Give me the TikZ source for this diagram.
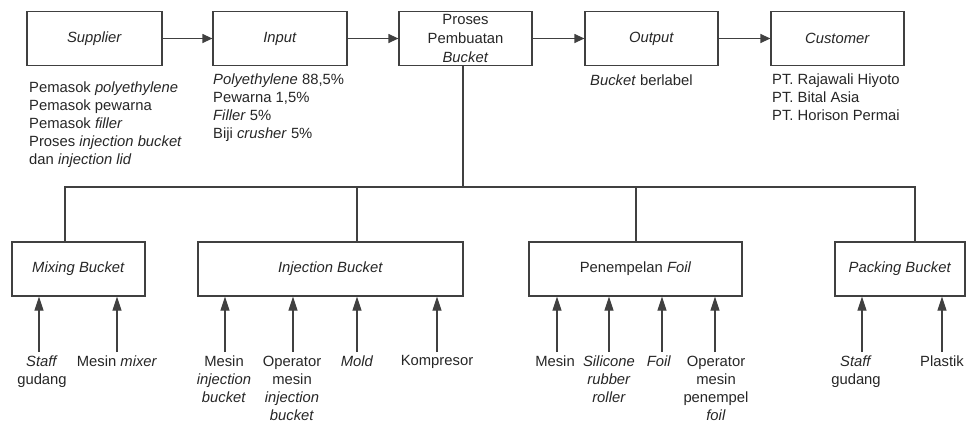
\documentclass[tikz,border=0pt]{standalone}
\usepackage{fontspec}
\setmainfont{Liberation Sans}
\usetikzlibrary{arrows.meta}
\definecolor{ln}{HTML}{404040}
\definecolor{tx}{HTML}{262626}
\begin{document}
\begin{tikzpicture}[x=1pt,y=-1pt,
  box/.style={draw=ln,line width=1.2pt,minimum height=54pt,inner sep=0pt,
    font=\fontsize{14.8}{19}\selectfont,text=tx,align=center},
  lbl/.style={inner sep=0pt,font=\fontsize{14.8}{18}\selectfont,text=tx,align=center,anchor=north},
  txt/.style={inner sep=0pt,font=\fontsize{14.8}{18}\selectfont,text=tx,align=left,anchor=north west},
  con/.style={draw=ln,line width=1.2pt},
  arr/.style={con,-{Triangle[length=10pt,width=9pt]}},
  uparr/.style={con,-{Triangle[length=14pt,width=9pt]}}]
\useasboundingbox (0,0) rectangle (967,421);
% top row
\node[box,minimum width=135pt] (sup) at (94.5,38.5) {\textit{Supplier}};
\node[box,minimum width=134pt] (inp) at (280,38.5) {\textit{Input}};
\node[box,minimum width=133pt] (pro) at (465.5,38.5) {Proses\\Pembuatan\\\textit{Bucket}};
\node[box,minimum width=133pt] (out) at (651.5,38.5) {\textit{Output}};
\node[box,minimum width=133pt] (cus) at (837.5,38.5) {\textit{Customer}};
\draw[arr] (sup) -- (inp);
\draw[arr] (inp) -- (pro);
\draw[arr] (pro) -- (out);
\draw[arr] (out) -- (cus);
% top texts
\node[txt] (tsup) at (29,82) {Pemasok \textit{polyethylene}\\Pemasok pewarna\\Pemasok \textit{filler}\\Proses \textit{injection bucket}\\dan \textit{injection lid}};
\node[txt] (tinp) at (213,74) {\textit{Polyethylene} 88,5\%\\Pewarna 1,5\%\\\textit{Filler} 5\%\\Biji \textit{crusher} 5\%};
\node[txt] (tout) at (590,75) {\textit{Bucket} berlabel};
\node[txt] (tcus) at (772,74) {PT. Rajawali Hiyoto\\PT. Bital Asia\\PT. Horison Permai};
% bottom row
\node[box,minimum width=133pt] (mix) at (78.5,269) {\textit{Mixing Bucket}};
\node[box,minimum width=265pt] (inj) at (330.5,269) {\textit{Injection Bucket}};
\node[box,minimum width=213pt] (pen) at (635.5,269) {Penempelan \textit{Foil}};
\node[box,minimum width=130pt] (pac) at (900,269) {\textit{Packing Bucket}};
% bus
\coordinate (bus) at (463,187);
\coordinate (mixtop) at (65,242);
\coordinate (injtop) at (357,242);
\coordinate (pentop) at (636,242);
\coordinate (pactop) at (915,242);
\draw[con] (pro.south -| bus) -- (bus);
\draw[con] (mixtop) -- (mixtop |- bus) -- (pactop |- bus) -- (pactop);
\draw[con] (injtop) -- (injtop |- bus);
\draw[con] (pentop) -- (pentop |- bus);
% resource arrows
\foreach \n/\x in {m1/39,m2/117}{\coordinate (\n) at (\x,352); \draw[uparr] (\n) -- (\n |- mix.south);}
\foreach \n/\x in {i1/225,i2/293,i3/357,i4/437}{\coordinate (\n) at (\x,352); \draw[uparr] (\n) -- (\n |- inj.south);}
\foreach \n/\x in {p1/557,p2/609,p3/662,p4/715}{\coordinate (\n) at (\x,352); \draw[uparr] (\n) -- (\n |- pen.south);}
\foreach \n/\x in {k1/862,k2/942}{\coordinate (\n) at (\x,352); \draw[uparr] (\n) -- (\n |- pac.south);}
% labels
\node[lbl] (l1) at (42,356) {\textit{Staff}\\gudang};
\node[lbl] (l2) at (117,356) {Mesin \textit{mixer}};
\node[lbl] (l3) at (224,356) {Mesin\\\textit{injection}\\\textit{bucket}};
\node[lbl] (l4) at (292,356) {Operator\\mesin\\\textit{injection}\\\textit{bucket}};
\node[lbl] (l5) at (357,356) {\textit{Mold}};
\node[lbl] (l6) at (437,355) {Kompresor};
\node[lbl] (l7) at (555,356) {Mesin};
\node[lbl] (l8) at (609,356) {\textit{Silicone}\\\textit{rubber}\\\textit{roller}};
\node[lbl] (l9) at (659,356) {\textit{Foil}};
\node[lbl] (l10) at (716,356) {Operator\\mesin\\penempel\\\textit{foil}};
\node[lbl] (l11) at (856,356) {\textit{Staff}\\gudang};
\node[lbl] (l12) at (942,356) {Plastik};
\end{tikzpicture}
\end{document}
